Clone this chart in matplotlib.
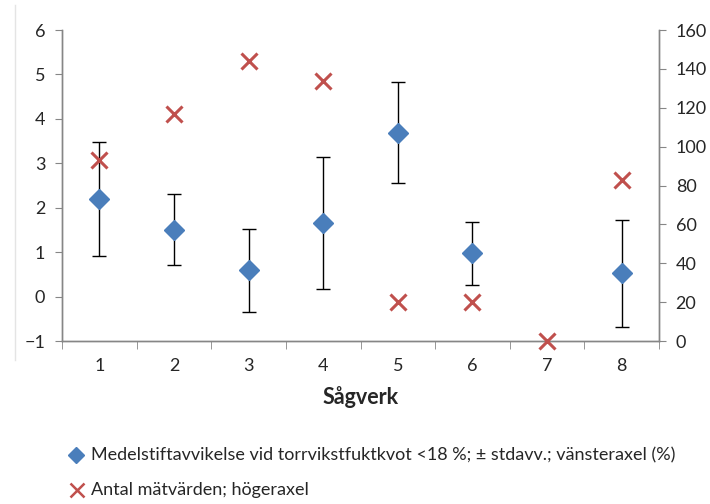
import matplotlib
matplotlib.use("Agg")
import matplotlib.pyplot as plt
from matplotlib.lines import Line2D
import numpy as np

plt.rcParams['font.family'] = ['Lato', 'DejaVu Sans']

sagverk = [1, 2, 3, 4, 5, 6, 7, 8]
medel_x = [1, 2, 3, 4, 5, 6, 8]
medel = [2.20, 1.50, 0.59, 1.66, 3.69, 0.97, 0.52]
stdavv = [1.29, 0.80, 0.94, 1.49, 1.13, 0.70, 1.20]
antal = [93, 117, 144, 134, 20, 20, 0, 83]

blue = '#4A7EBB'
red = '#C0504D'
axis_grey = '#868686'
text_col = '#262626'

fig = plt.figure(figsize=(7.1, 5.04), dpi=100)
ax = fig.add_axes([62/710, 1-341/504, (659-62)/710, (341-30)/504])
ax2 = ax.twinx()

ax.errorbar(medel_x, medel, yerr=stdavv, fmt='none', ecolor='black',
            elinewidth=1.0, capsize=5, capthick=1.0, zorder=2)
ax.plot(medel_x, medel, linestyle='none', marker='D', markersize=10,
        color=blue, zorder=3)
ax2.plot(sagverk, antal, linestyle='none', marker='x', markersize=11,
         markeredgewidth=2.2, color=red, zorder=3, clip_on=False)

ax.set_xlim(0.5, 8.5)
ax.set_ylim(-1, 6)
ax2.set_ylim(0, 160)
ax.set_yticks(range(-1, 7))
ax2.set_yticks(range(0, 161, 20))

ax.set_xticks(sagverk)
ax.set_xticks(np.arange(0.5, 8.6, 1), minor=True)
ax.tick_params(axis='x', which='major', length=0, pad=12, labelsize=13, labelcolor=text_col)
ax.tick_params(axis='x', which='minor', length=6, color=axis_grey, direction='out')
ax.tick_params(axis='y', length=5, color=axis_grey, pad=7, labelsize=13, labelcolor=text_col)
ax2.tick_params(axis='y', length=5, color=axis_grey, pad=7, labelsize=13, labelcolor=text_col)

for a in (ax, ax2):
    a.spines['top'].set_visible(False)
    for s in ('left', 'right', 'bottom'):
        a.spines[s].set_color(axis_grey)
        a.spines[s].set_linewidth(1.0)

ax.set_xlabel('Sågverk', fontsize=15.5, fontweight='bold', color=text_col, labelpad=9)

# legend entries below the plot
fig.add_artist(Line2D([76/710], [1-455/504], marker='D', markersize=8.5,
                      color=blue, linestyle='none'))
fig.add_artist(Line2D([77/710], [1-490/504], marker='x', markersize=10,
                      markeredgewidth=1.8, color=red, linestyle='none'))
fig.text(91/710, 1-455/504, 'Medelstiftavvikelse vid torrvikstfuktkvot <18 %; ± stdavv.; vänsteraxel (%)',
         fontsize=13, color=text_col, va='center', ha='left')
fig.text(91/710, 1-490/504, 'Antal mätvärden; högeraxel',
         fontsize=13, color=text_col, va='center', ha='left')

# chart area edge on the left
fig.add_artist(Line2D([15/710, 15/710], [1-360/504, 1-5/504], color='#E4E4E4', linewidth=1))

fig.savefig('out.png', dpi=100)
